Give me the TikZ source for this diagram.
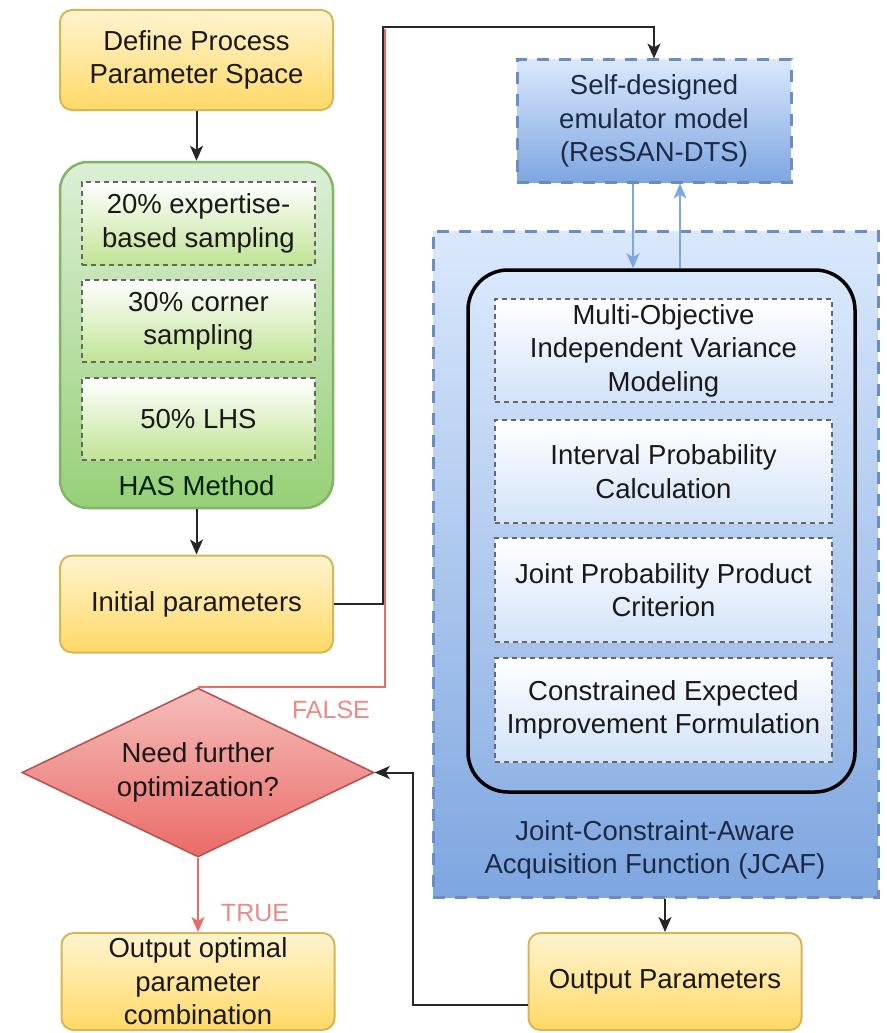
\documentclass[tikz,border=0pt]{standalone}
\usepackage{fontspec}
\setmainfont{Liberation Sans}
\usetikzlibrary{arrows.meta,shapes.geometric}

\definecolor{ylwtop}{HTML}{FFF4D0}
\definecolor{ylwbot}{HTML}{FFD966}
\definecolor{ylwline}{HTML}{D6B656}
\definecolor{grntop}{HTML}{DCEFD6}
\definecolor{grnbot}{HTML}{97D077}
\definecolor{grnline}{HTML}{82B366}
\definecolor{grnin}{HTML}{C0E394}
\definecolor{blutop}{HTML}{DAE8FC}
\definecolor{blubot}{HTML}{7EA6E0}
\definecolor{bluline}{HTML}{6C8EBF}
\definecolor{bluin}{HTML}{D2E2F8}
\definecolor{redtop}{HTML}{F5BDBB}
\definecolor{redbot}{HTML}{EA6B66}
\definecolor{redline}{HTML}{B85450}
\definecolor{falsecol}{HTML}{EA8A88}
\definecolor{navytext}{HTML}{1C2A44}

\tikzset{
  txt/.style={font=\fontsize{27.5}{33.5}\selectfont, align=center, text=black!90},
  ybox/.style={txt, draw=ylwline, line width=2pt, rounded corners=12pt,
    top color=ylwtop, bottom color=ylwbot, minimum width=273pt, inner sep=0pt},
  gsub/.style={txt, draw=black!60, dash pattern=on 5pt off 4pt, line width=1.6pt,
    top color=white, bottom color=grnin, minimum width=233pt, inner sep=0pt},
  bsub/.style={txt, draw=black!60, dash pattern=on 5pt off 4pt, line width=1.6pt,
    top color=white, bottom color=bluin, minimum width=337pt, inner sep=0pt},
  bdash/.style={draw=bluline, dash pattern=on 12pt off 10pt, line width=3pt,
    top color=blutop, bottom color=blubot},
  tip/.style={-{Stealth[length=15pt,width=13pt,inset=4pt]}},
  conn/.style={draw=black!85, line width=2pt, tip},
  bconn/.style={draw=blubot, line width=1.8pt, tip},
  rconn/.style={draw=redbot, line width=2pt},
  lbl/.style={font=\fontsize{25}{30}\selectfont, text=falsecol}
}

\begin{document}
\begin{tikzpicture}[x=1pt,y=-1pt]
\useasboundingbox (0,0) rectangle (886,1033);

% left column
\node[ybox, minimum height=100pt] (define) at (196.5,60) {Define Process\\Parameter Space};

\node[draw=grnline, line width=2.5pt, rounded corners=28pt, top color=grntop, bottom color=grnbot,
      minimum width=273pt, minimum height=346pt, inner sep=0pt] (has) at (196.5,335) {};
\node[gsub, minimum height=83pt] (samp1) at (198.5,223.5) {20\% expertise-\\based sampling};
\node[gsub, minimum height=82pt] (samp2) at (198.5,321) {30\% corner\\sampling};
\node[gsub, minimum height=82pt] (samp3) at (198.5,419) {50\% LHS};
\node[txt, text=black!80!green!60!black] (haslbl) at (196.5,486) {HAS Method};

\node[ybox, minimum height=97pt] (init) at (196.5,604) {Initial parameters};

\node[diamond, aspect=2.08, inner sep=0pt, minimum width=352pt, minimum height=169pt,
      draw=redline, line width=1.6pt, top color=redtop, bottom color=redbot,
      txt] (dec) at (198,772.5) {Need further\\optimization?};

\node[ybox, minimum height=97pt] (outopt) at (198,981.5) {Output optimal\\parameter\\combination};

% right column
\node[bdash, txt, text=navytext, minimum width=274pt, minimum height=122pt, inner sep=0pt] (emu) at (654,121)
  {Self-designed\\emulator model\\(ResSAN-DTS)};

\node[bdash, minimum width=445pt, minimum height=666pt, inner sep=0pt] (jcaf) at (655.5,564) {};
\node[draw=black, line width=3.5pt, rounded corners=40pt, top color=blutop, bottom color=blubot!85!white,
      minimum width=387pt, minimum height=522pt, inner sep=0pt] (inner) at (661.5,531) {};

\node[bsub, minimum height=103pt] (mo) at (663.5,350.5) {Multi-Objective\\Independent Variance\\Modeling};
\node[bsub, minimum height=103pt] (ip) at (663.5,471.5) {Interval Probability\\Calculation};
\node[bsub, minimum height=104pt] (jp) at (663.5,590) {Joint Probability Product\\Criterion};
\node[bsub, minimum height=104pt] (ce) at (663.5,710) {Constrained Expected\\Improvement Formulation};

\node[txt, text=navytext] (jcaflbl) at (655,850) {Joint-Constraint-Aware\\Acquisition Function (JCAF)};

\node[ybox, minimum height=97pt] (outp) at (665,981.5) {Output Parameters};

% connectors
\draw[conn] (define) -- (has);
\draw[conn] (has) -- (init);

% FALSE branch runs alongside the feed line back to the emulator
\coordinate (loopup) at (385,29);
\draw[rconn] (dec.north) -| (loopup);
\coordinate (toptrack) at (383,27);
\draw[conn] (init.east) -| (toptrack) -| (emu.north);

\coordinate (dn) at ([xshift=-21pt]emu.south);
\coordinate (up) at ([xshift=26pt]emu.south);
\draw[bconn] (dn) -- (dn |- inner.north);
\draw[bconn] (up |- inner.north) -- (up);

\draw[conn] (jcaf.south -| outp.north) -- (outp.north);

\coordinate (backx) at ([xshift=38pt]dec.east);
\draw[conn] ([yshift=-23.5pt]outp.west) -| (backx) -- (dec.east);

\draw[rconn, tip] (dec.south) -- (outopt.north);

\node[lbl] (falselbl) at (331,710) {FALSE};
\node[lbl] (truelbl) at (255,913) {TRUE};
\end{tikzpicture}
\end{document}
